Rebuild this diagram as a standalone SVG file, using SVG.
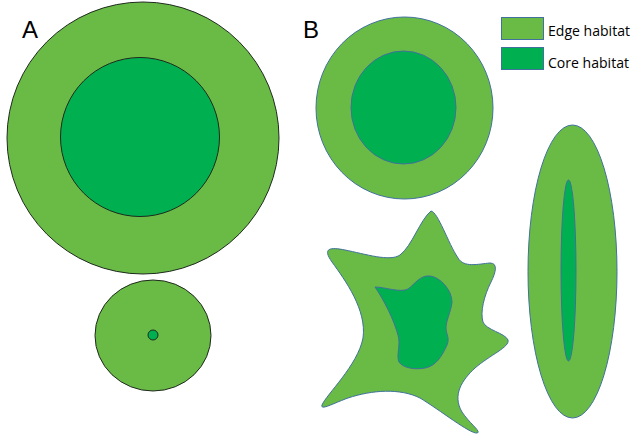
<svg xmlns="http://www.w3.org/2000/svg" width="631" height="435" viewBox="0 0 631 435">
<style>
.edge{fill:#6abb46}
.core{fill:#00b050}
.a{stroke:#1e2a1e;stroke-width:1}
.b{stroke:#41719c;stroke-width:1}
.lbl{font-family:"Liberation Sans",Arial,sans-serif;font-size:24px;fill:#000}
.leg{font-family:"Open Sans","Liberation Sans",sans-serif;font-size:14px;fill:#000}
</style>
<rect width="631" height="435" fill="#fff"/>
<text class="lbl" x="22" y="38">A</text>
<text class="lbl" x="303" y="38">B</text>
<g id="a-large">
<circle class="edge a" cx="143" cy="138" r="136"/>
<circle class="core a" cx="140" cy="137" r="79.5"/>
</g>
<g id="a-small">
<ellipse class="edge a" cx="153" cy="335.5" rx="58" ry="55.5"/>
<circle class="core a" cx="153" cy="335" r="5"/>
</g>
<g id="b-circle">
<ellipse class="edge b" cx="404.5" cy="108" rx="88.5" ry="91"/>
<ellipse class="core b" cx="403.5" cy="107.5" rx="52.5" ry="56.5"/>
</g>
<g id="b-ellipse">
<ellipse class="edge b" cx="572.5" cy="271.5" rx="44.5" ry="146.5"/>
<ellipse class="core b" cx="568.5" cy="270.5" rx="7.5" ry="90.5"/>
</g>
<g id="b-star">
<path class="edge b" d="M431,211 C438,212 448,243 458,258 C464,268 478,264 490,263 C498,263 496,272 491,282 C484,296 480,312 483,322 C486,330 505,333 508,340 C510,347 490,355 475,368 C462,380 452,395 462,412 C470,424 482,432 477,433 C470,434 440,410 420,398 C400,388 372,390 348,398 C334,403 320,411 322,405 C326,395 358,365 363,338 C367,310 345,280 332,262 C322,248 330,247 345,250 C365,254 390,262 400,255 C412,246 420,220 431,211 Z"/>
<path class="core b" d="M375,287 C385,287 400,293 408,289 C415,284 420,275 430,276 C440,277 452,290 452,302 C451,312 446,320 446,328 C446,334 450,338 447,345 C442,356 436,366 425,368 C415,370 403,368 399,362 C396,355 401,345 398,335 C394,320 384,300 375,287 Z"/>
</g>
<g id="legend">
<rect class="edge b" x="501.5" y="17.5" width="42" height="22"/>
<text class="leg" x="548" y="36" textLength="82" lengthAdjust="spacingAndGlyphs">Edge habitat</text>
<rect class="core b" x="501.5" y="47.5" width="42" height="22"/>
<text class="leg" x="548" y="68" textLength="81" lengthAdjust="spacingAndGlyphs">Core habitat</text>
</g>
</svg>
